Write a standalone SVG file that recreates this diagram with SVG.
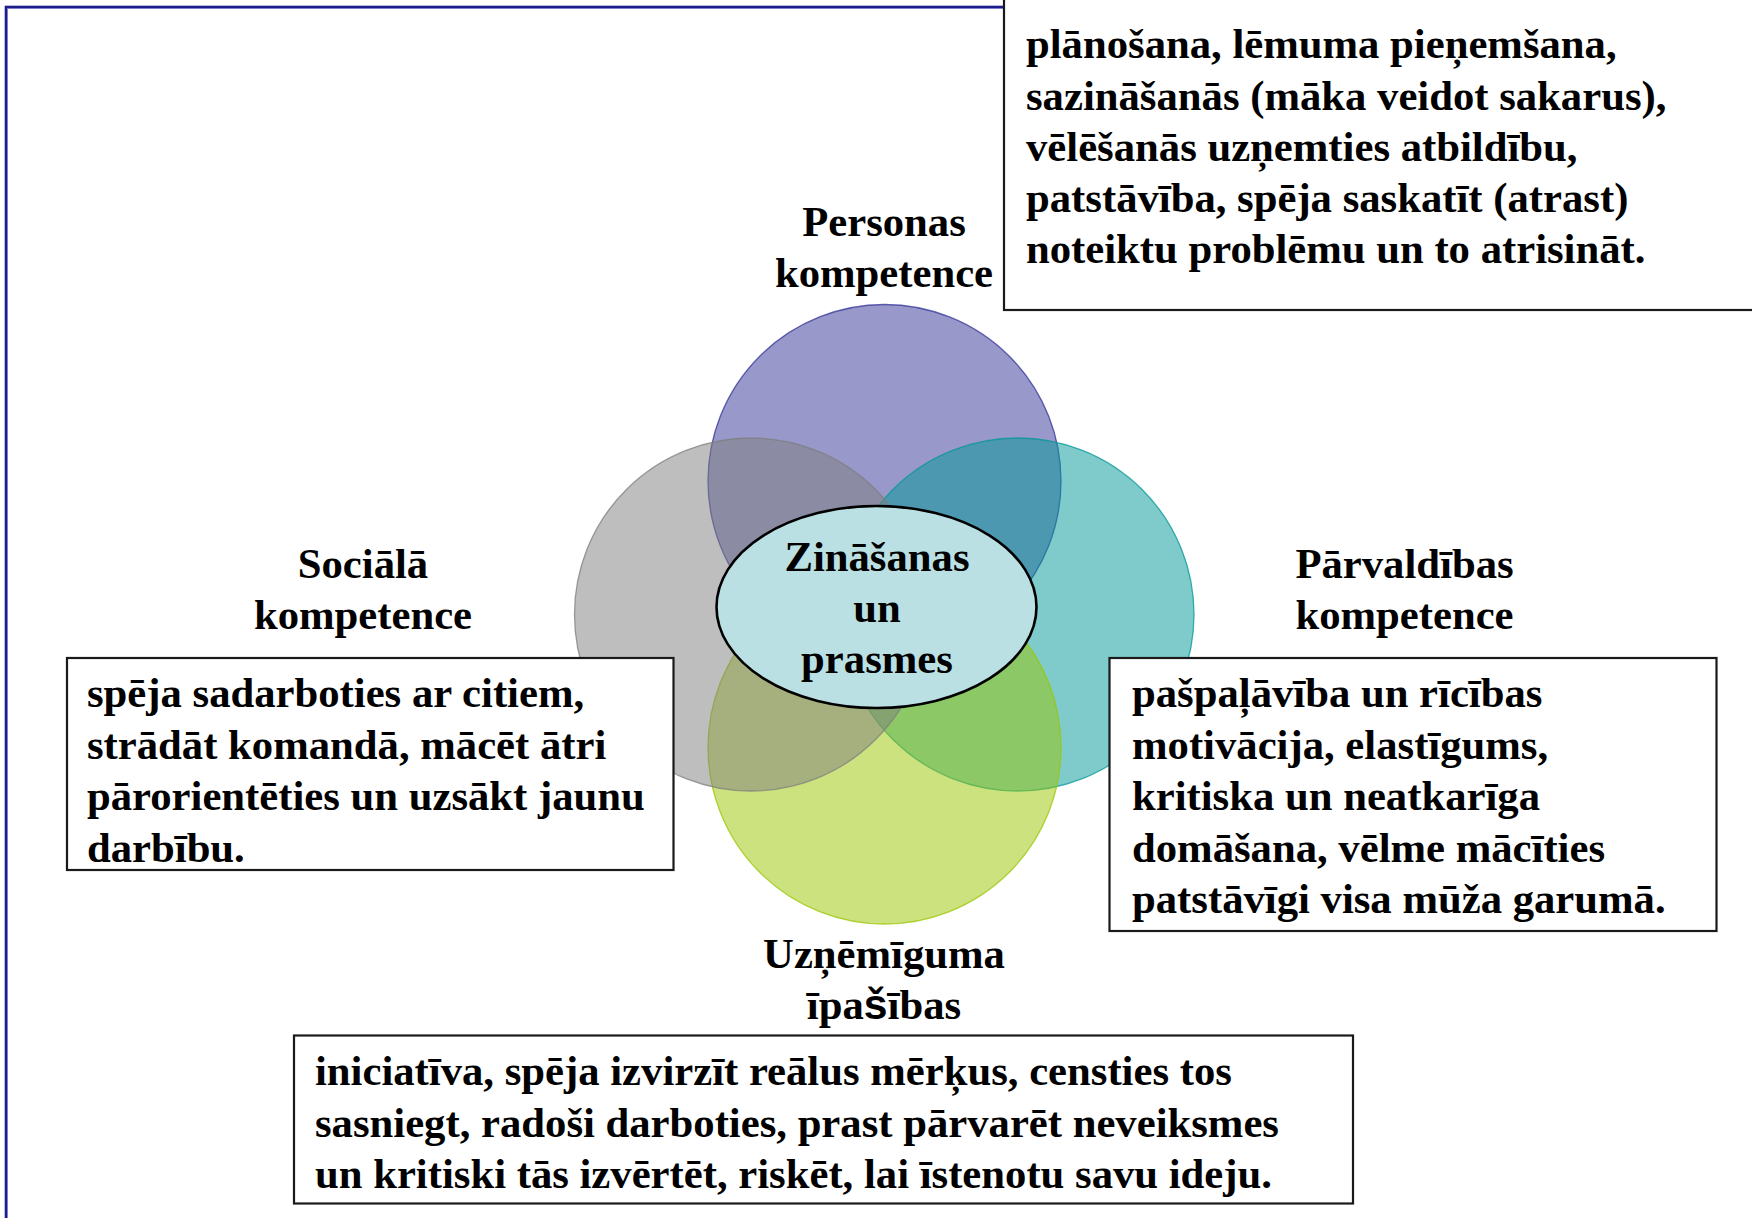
<svg xmlns="http://www.w3.org/2000/svg" width="1752" height="1218" viewBox="0 0 1752 1218">
<style>
.t{font-family:"Liberation Serif","Times New Roman",serif;font-weight:bold;font-size:42.7px;fill:#000}
.c{text-anchor:middle}
.box{fill:#fff;stroke:#1a1a1a;stroke-width:2.2}
.circ{fill-opacity:0.5;stroke-width:1.3;stroke-opacity:0.75}
.s{font-family:"Liberation Sans",Arial,sans-serif}
</style>
<rect width="1752" height="1218" fill="#fff"/>
<g id="frame">
<rect x="6" y="7" width="1900" height="1400" fill="none" stroke="#1c1c8a" stroke-width="2.6"/>
<rect x="7.5" y="8.5" width="1900" height="1400" fill="none" stroke="#7070d0" stroke-width="0.8"/>
</g>
<g id="venn">
<circle id="c-personas" class="circ" cx="884.5" cy="481" r="176.5" fill="#313195" stroke="#313195"/>
<circle id="c-parvaldibas" class="circ" cx="1017.5" cy="614.5" r="176.5" fill="#009797" stroke="#009797"/>
<circle id="c-uznemiguma" class="circ" cx="884.5" cy="747.5" r="176.5" fill="#99C500" stroke="#99C500"/>
<circle id="c-sociala" class="circ" cx="751" cy="614.5" r="176.5" fill="#7d7d7d" stroke="#7d7d7d"/>
</g>
<g id="center">
<ellipse cx="876.5" cy="607" rx="160" ry="101" fill="#BAE0E3" stroke="#000" stroke-width="2.6"/>
<text class="t c" x="877" y="571">Zināšanas</text>
<text class="t c" x="877" y="622">un</text>
<text class="t c" x="877" y="672.5">prasmes</text>
</g>
<g id="personas">
<text class="t c" x="884" y="236">Personas</text>
<text class="t c" x="884" y="287">kompetence</text>
<rect class="box" x="1004" y="-10" width="800" height="320"/>
<text class="t" x="1026" y="58">plānošana, lēmuma pieņemšana,</text>
<text class="t" x="1026" y="109.5">sazināšanās (māka veidot sakarus),</text>
<text class="t" x="1026" y="161">vēlēšanās uzņemties atbildību,</text>
<text class="t" x="1026" y="212">patstāvība, spēja saskatīt (atrast)</text>
<text class="t" x="1026" y="263">noteiktu problēmu un to atrisināt.</text>
</g>
<g id="sociala">
<text class="t c" x="363" y="578">Sociālā</text>
<text class="t c" x="363" y="629">kompetence</text>
<rect class="box" x="67" y="658" width="606.5" height="212"/>
<text class="t" x="87" y="707">spēja sadarboties ar citiem,</text>
<text class="t" x="87" y="758.5">strādāt komandā, mācēt ātri</text>
<text class="t" x="87" y="810">pārorientēties un uzsākt jaunu</text>
<text class="t" x="87" y="861.5">darbību.</text>
</g>
<g id="parvaldibas">
<text class="t c" x="1404.5" y="578">Pārvaldības</text>
<text class="t c" x="1404.5" y="629">kompetence</text>
<rect class="box" x="1109.5" y="658" width="607" height="273"/>
<text class="t" x="1132" y="707">pašpaļāvība un rīcības</text>
<text class="t" x="1132" y="758.5">motivācija, elastīgums,</text>
<text class="t" x="1132" y="810">kritiska un neatkarīga</text>
<text class="t" x="1132" y="861.5">domāšana, vēlme mācīties</text>
<text class="t" x="1132" y="913">patstāvīgi visa mūža garumā.</text>
</g>
<g id="uznemiguma">
<text class="t c" x="884" y="968">Uzņēmīguma</text>
<text class="t c" x="884" y="1019">īpa<tspan class="s">š</tspan>ības</text>
<rect class="box" x="294" y="1035.5" width="1059" height="168"/>
<text class="t" x="315" y="1085">iniciatīva, spēja izvirzīt reālus mērķus, censties tos</text>
<text class="t" x="315" y="1136.5">sasniegt, radoši darboties, prast pārvarēt neveiksmes</text>
<text class="t" x="315" y="1188">un kritiski tās izvērtēt, riskēt, lai īstenotu savu ideju.</text>
</g>
</svg>
